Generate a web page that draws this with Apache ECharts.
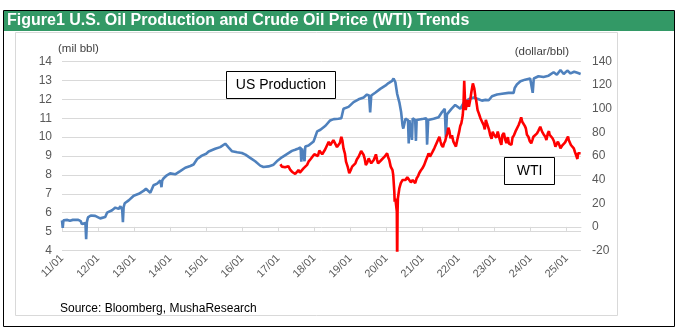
<!DOCTYPE html>
<html>
<head>
<meta charset="utf-8">
<script src="https://cdn.jsdelivr.net/npm/echarts@6/dist/echarts.min.js"></script>
<style>
  html, body { margin: 0; padding: 0; background: #ffffff; }
  #chart { width: 684px; height: 334px; }
</style>
</head>
<body>
<div id="chart"></div>
<script>
// Year ticks on the time axis (value = calendar year, label = "yy/01")
const yearTicks = [2011, 2012, 2013, 2014, 2015, 2016, 2017, 2018, 2019, 2020, 2021, 2022, 2023, 2024, 2025];

// U.S. crude oil production, mil bbl/day: [decimal year, value]
const productionPoints = [
  [2011.00, 5.60], [2011.02, 5.20], [2011.04, 5.60], [2011.15, 5.62], [2011.22, 5.58], [2011.30, 5.62],
  [2011.45, 5.62], [2011.52, 5.55], [2011.55, 5.40], [2011.60, 5.50], [2011.65, 5.45],
  [2011.67, 4.60], [2011.69, 5.50], [2011.72, 5.75], [2011.80, 5.85], [2011.92, 5.83],
  [2012.06, 5.70], [2012.20, 5.77], [2012.25, 6.00], [2012.39, 6.13], [2012.48, 6.27],
  [2012.57, 6.20], [2012.62, 6.34], [2012.67, 6.15], [2012.69, 5.50], [2012.71, 6.30],
  [2012.74, 6.50], [2012.85, 6.65], [2012.99, 6.90], [2013.13, 7.00], [2013.26, 7.15],
  [2013.33, 7.27], [2013.45, 7.05], [2013.54, 7.45], [2013.64, 7.54], [2013.73, 7.71],
  [2013.76, 7.35], [2013.78, 7.70], [2013.82, 7.82], [2013.91, 7.98], [2014.00, 8.08],
  [2014.14, 8.03], [2014.28, 8.20], [2014.42, 8.38], [2014.56, 8.47], [2014.65, 8.55],
  [2014.75, 8.84], [2014.88, 9.02], [2015.00, 9.12], [2015.07, 9.24], [2015.25, 9.38],
  [2015.39, 9.47], [2015.43, 9.38], [2015.53, 9.65], [2015.62, 9.46], [2015.72, 9.25],
  [2015.86, 9.20], [2015.99, 9.16], [2016.09, 9.07], [2016.22, 8.90], [2016.36, 8.72],
  [2016.50, 8.49], [2016.59, 8.42], [2016.73, 8.45], [2016.87, 8.54], [2016.96, 8.72],
  [2017.10, 8.93], [2017.24, 9.10], [2017.38, 9.27], [2017.47, 9.33], [2017.56, 9.40],
  [2017.62, 9.45], [2017.64, 8.70], [2017.66, 9.40], [2017.71, 9.45], [2017.73, 8.72],
  [2017.75, 9.50], [2017.84, 9.55], [2017.98, 9.77], [2018.08, 10.30], [2018.17, 10.39],
  [2018.31, 10.60], [2018.44, 10.88], [2018.54, 10.95], [2018.67, 10.97], [2018.75, 11.00],
  [2018.81, 11.50], [2018.95, 11.60], [2019.09, 11.85], [2019.23, 12.00], [2019.37, 12.10],
  [2019.46, 12.25], [2019.52, 12.20], [2019.55, 11.30], [2019.58, 12.20], [2019.69, 12.35],
  [2019.83, 12.55], [2019.97, 12.72], [2020.06, 12.86], [2020.16, 12.98], [2020.20, 13.10],
  [2020.25, 12.90], [2020.30, 12.28], [2020.36, 11.84], [2020.41, 11.31], [2020.45, 10.60],
  [2020.47, 10.45], [2020.53, 10.97], [2020.60, 10.90], [2020.62, 9.66], [2020.64, 10.90],
  [2020.69, 10.95], [2020.71, 9.85], [2020.73, 11.00], [2020.80, 10.90], [2020.82, 9.80],
  [2020.84, 10.90], [2020.89, 11.00], [2021.03, 10.97], [2021.11, 11.00], [2021.13, 9.60],
  [2021.16, 10.90], [2021.31, 10.97], [2021.45, 11.05], [2021.54, 11.31], [2021.62, 11.50],
  [2021.65, 10.00], [2021.68, 11.20], [2021.73, 11.30], [2021.80, 11.48], [2021.91, 11.70],
  [2022.05, 11.50], [2022.14, 11.80], [2022.28, 12.00], [2022.42, 12.10], [2022.56, 12.00],
  [2022.65, 11.93], [2022.75, 11.97], [2022.84, 11.95], [2022.93, 12.16], [2023.07, 12.25],
  [2023.21, 12.29], [2023.39, 12.34], [2023.53, 12.34], [2023.56, 12.60], [2023.62, 12.78],
  [2023.72, 12.95], [2023.85, 13.04], [2023.99, 13.10], [2024.04, 13.10], [2024.06, 12.34],
  [2024.09, 13.10], [2024.22, 13.22], [2024.36, 13.18], [2024.50, 13.25], [2024.64, 13.43],
  [2024.73, 13.30], [2024.83, 13.55], [2024.92, 13.34], [2025.02, 13.52], [2025.11, 13.37],
  [2025.21, 13.46], [2025.30, 13.40], [2025.39, 13.34]
];

// WTI crude oil price, dollar/bbl: [decimal year, value]
const wtiPoints = [
  [2017.06, 53.0], [2017.10, 51.0], [2017.15, 52.4], [2017.19, 50.5], [2017.22, 49.0], [2017.28, 51.4],
  [2017.33, 48.5], [2017.38, 46.7], [2017.42, 48.0], [2017.47, 44.8], [2017.52, 46.5], [2017.56, 48.2],
  [2017.60, 46.0], [2017.65, 47.5], [2017.70, 49.5], [2017.75, 51.0], [2017.80, 52.5], [2017.84, 55.2],
  [2017.90, 57.5], [2017.94, 56.6], [2018.00, 61.5], [2018.03, 60.8], [2018.10, 60.0], [2018.14, 64.5],
  [2018.17, 63.6], [2018.22, 61.5], [2018.26, 62.4], [2018.30, 65.5], [2018.35, 66.5], [2018.40, 72.1],
  [2018.44, 69.0], [2018.49, 67.9], [2018.53, 73.5], [2018.58, 72.1], [2018.63, 67.5], [2018.67, 69.3],
  [2018.71, 71.0], [2018.75, 76.3], [2018.78, 73.0], [2018.81, 66.5], [2018.85, 62.0], [2018.88, 55.2],
  [2018.93, 50.5], [2018.97, 45.4], [2019.01, 48.0], [2019.05, 51.0], [2019.10, 52.5], [2019.14, 53.8],
  [2019.18, 57.0], [2019.23, 59.4], [2019.30, 64.2], [2019.33, 63.0], [2019.37, 60.8], [2019.40, 57.5],
  [2019.43, 52.4], [2019.47, 54.5], [2019.51, 58.0], [2019.54, 56.0], [2019.58, 53.8], [2019.62, 55.0],
  [2019.65, 56.6], [2019.69, 58.0], [2019.71, 61.4], [2019.74, 57.0], [2019.77, 53.8], [2019.81, 54.5],
  [2019.86, 56.6], [2019.90, 57.5], [2019.95, 59.4], [2020.02, 62.3], [2020.05, 59.0], [2020.08, 56.6],
  [2020.12, 51.0], [2020.14, 52.4], [2020.17, 48.0], [2020.19, 43.9], [2020.22, 29.8], [2020.23, 21.3],
  [2020.25, 24.0], [2020.29, 12.9], [2020.30, -37.6], [2020.31, 12.0], [2020.32, 24.2], [2020.36, 32.7],
  [2020.40, 37.0], [2020.45, 39.7], [2020.49, 41.0], [2020.53, 39.7], [2020.58, 42.0], [2020.62, 41.1],
  [2020.68, 37.7], [2020.73, 39.7], [2020.77, 38.5], [2020.80, 37.0], [2020.84, 41.1], [2020.88, 43.0],
  [2020.91, 45.4], [2020.95, 47.5], [2021.00, 49.6], [2021.05, 52.5], [2021.10, 56.6], [2021.14, 59.5],
  [2021.17, 62.3], [2021.21, 59.5], [2021.24, 60.8], [2021.28, 63.5], [2021.33, 66.5], [2021.37, 65.0],
  [2021.41, 72.1], [2021.44, 71.0], [2021.47, 76.3], [2021.50, 72.5], [2021.53, 69.3], [2021.57, 67.5],
  [2021.60, 70.8], [2021.63, 72.5], [2021.66, 76.3], [2021.69, 79.0], [2021.72, 84.0], [2021.75, 81.0],
  [2021.78, 75.0], [2021.82, 77.5], [2021.86, 72.1], [2021.90, 71.0], [2021.93, 68.0], [2021.97, 74.0],
  [2022.02, 80.6], [2022.05, 85.5], [2022.08, 87.7], [2022.10, 91.0], [2022.12, 94.7], [2022.14, 104.0],
  [2022.16, 123.7], [2022.18, 108.0], [2022.20, 99.0], [2022.23, 104.0], [2022.26, 107.4], [2022.29, 101.7],
  [2022.33, 108.0], [2022.36, 114.4], [2022.40, 121.5], [2022.44, 117.0], [2022.47, 110.0], [2022.49, 107.4],
  [2022.53, 99.0], [2022.56, 96.5], [2022.58, 94.7], [2022.61, 92.0], [2022.63, 90.5], [2022.67, 88.0],
  [2022.70, 86.2], [2022.73, 82.5], [2022.76, 90.5], [2022.79, 87.5], [2022.82, 84.8], [2022.85, 82.0],
  [2022.88, 77.8], [2022.92, 74.5], [2022.95, 80.6], [2022.98, 78.5], [2023.02, 77.8], [2023.05, 75.5],
  [2023.09, 80.6], [2023.12, 77.0], [2023.16, 72.1], [2023.19, 69.5], [2023.22, 77.8], [2023.26, 79.5],
  [2023.30, 73.5], [2023.33, 71.0], [2023.37, 76.0], [2023.40, 70.5], [2023.44, 72.1], [2023.47, 69.5],
  [2023.50, 75.6], [2023.54, 77.5], [2023.58, 80.6], [2023.62, 82.0], [2023.67, 86.2], [2023.71, 89.5],
  [2023.74, 92.8], [2023.77, 89.0], [2023.80, 87.7], [2023.84, 85.5], [2023.87, 83.4], [2023.90, 78.0],
  [2023.94, 76.3], [2023.98, 72.5], [2024.02, 70.8], [2024.05, 73.5], [2024.08, 76.3], [2024.12, 77.5],
  [2024.18, 79.2], [2024.22, 81.5], [2024.27, 84.8], [2024.32, 80.6], [2024.36, 78.5], [2024.41, 76.3],
  [2024.44, 73.5], [2024.48, 79.2], [2024.51, 81.0], [2024.53, 78.0], [2024.57, 77.0], [2024.61, 75.0],
  [2024.65, 72.5], [2024.69, 67.9], [2024.72, 69.5], [2024.76, 72.1], [2024.79, 70.0], [2024.83, 66.5],
  [2024.87, 68.5], [2024.92, 69.3], [2024.96, 71.5], [2025.01, 70.8], [2025.04, 76.5], [2025.06, 73.5],
  [2025.09, 72.0], [2025.12, 69.3], [2025.15, 70.5], [2025.17, 67.9], [2025.20, 66.5], [2025.23, 63.6],
  [2025.26, 61.0], [2025.28, 59.4], [2025.30, 57.5], [2025.32, 62.3], [2025.36, 61.0], [2025.39, 62.3]
];

const chartTitle = 'Figure1 U.S. Oil Production and Crude Oil Price (WTI) Trends';
const sourceNote = 'Source: Bloomberg, MushaResearch';

const axisGray = '#595959';
const lineGray = '#d9d9d9';
const font = '"Liberation Sans", Arial, sans-serif';

const chart = echarts.init(document.getElementById('chart'), null, { renderer: 'canvas' });

chart.setOption({
  backgroundColor: '#ffffff',
  animation: false,
  grid: { left: 62, right: 103, top: 61.5, bottom: 83.5, containLabel: false },
  xAxis: {
    type: 'value',
    min: 2011,
    max: 2025.4,
    splitLine: { show: false },
    axisLine: { show: true, lineStyle: { color: lineGray, width: 1 } },
    axisTick: { show: true, length: 4, lineStyle: { color: lineGray }, customValues: yearTicks },
    axisLabel: {
      customValues: yearTicks,
      rotate: 45,
      margin: 6,
      color: axisGray,
      fontSize: 11,
      fontFamily: font,
      formatter: v => String(Math.round(v) - 2000).padStart(2, '0') + '/01'
    }
  },
  yAxis: [
    {
      type: 'value',
      min: 4,
      max: 14,
      interval: 1,
      position: 'left',
      name: '(mil bbl)',
      nameLocation: 'end',
      nameGap: 7,
      nameTextStyle: { color: '#404040', fontSize: 11.5, fontFamily: font, align: 'left', padding: [0, 0, 0, -4] },
      axisLine: { show: false },
      axisTick: { show: false },
      splitLine: { lineStyle: { color: lineGray, width: 1 } },
      axisLabel: { color: axisGray, fontSize: 12, fontFamily: font, margin: 10 }
    },
    {
      type: 'value',
      min: -20,
      max: 140,
      interval: 20,
      position: 'right',
      name: '(dollar/bbl)',
      nameLocation: 'end',
      nameGap: 4,
      nameTextStyle: { color: '#404040', fontSize: 11.5, fontFamily: font, align: 'right', padding: [0, 12, 0, 0] },
      axisLine: { show: false },
      axisTick: { show: false },
      splitLine: { show: false },
      axisLabel: { color: axisGray, fontSize: 12, fontFamily: font, margin: 11 }
    }
  ],
  series: [
    {
      name: 'US Production',
      type: 'line',
      yAxisIndex: 0,
      data: productionPoints,
      showSymbol: false,
      lineStyle: { color: '#4f81bd', width: 2.6 },
      itemStyle: { color: '#4f81bd' },
      z: 2
    },
    {
      name: 'WTI',
      type: 'line',
      yAxisIndex: 1,
      data: wtiPoints,
      showSymbol: false,
      lineStyle: { color: '#ff0000', width: 2.6 },
      itemStyle: { color: '#ff0000' },
      z: 3
    }
  ],
  graphic: [
    // outer frame and title band
    { type: 'rect', shape: { x: 3.5, y: 10.5, width: 671, height: 316 }, style: { fill: 'none', stroke: '#000000', lineWidth: 1 }, z: 0 },
    { type: 'rect', shape: { x: 4, y: 11, width: 670, height: 20 }, style: { fill: '#339966' }, z: 1 },
    { type: 'text', x: 7, y: 21, style: { text: chartTitle, fill: '#ffffff', font: 'bold 16px "Liberation Sans Narrow", "Liberation Sans", Arial, sans-serif', verticalAlign: 'middle' }, z: 2 },
    // inner frame
    { type: 'rect', shape: { x: 15.5, y: 32.5, width: 602, height: 283 }, style: { fill: 'none', stroke: lineGray, lineWidth: 1 }, z: 0 },
    // series name boxes
    { type: 'rect', shape: { x: 226.5, y: 71.5, width: 109, height: 27 }, style: { fill: '#ffffff', stroke: '#000000', lineWidth: 1 }, z: 10 },
    { type: 'text', x: 281, y: 85, style: { text: 'US Production', fill: '#000000', font: '14px ' + font, align: 'center', verticalAlign: 'middle' }, z: 11 },
    { type: 'rect', shape: { x: 504.5, y: 157.5, width: 50, height: 27 }, style: { fill: '#ffffff', stroke: '#000000', lineWidth: 1 }, z: 10 },
    { type: 'text', x: 529.5, y: 171, style: { text: 'WTI', fill: '#000000', font: '14px ' + font, align: 'center', verticalAlign: 'middle' }, z: 11 },
    // source note
    { type: 'text', x: 60, y: 309, style: { text: sourceNote, fill: '#000000', font: '12px ' + font, verticalAlign: 'middle' }, z: 2 }
  ]
});
</script>
</body>
</html>
